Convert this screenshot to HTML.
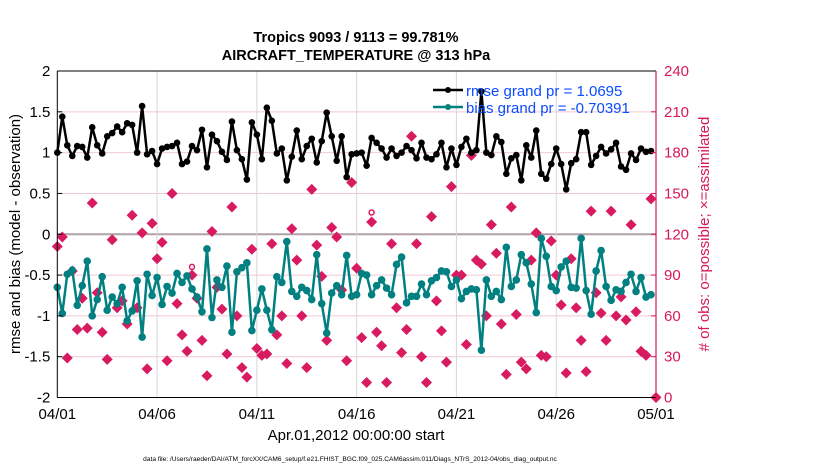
<!DOCTYPE html>
<html><head><meta charset="utf-8"><style>
body{margin:0;background:#fff;width:830px;height:470px;overflow:hidden;font-family:"Liberation Sans",sans-serif}
svg text{font-family:"Liberation Sans",sans-serif}
</style></head><body>
<svg id="chart" width="830" height="470" xmlns="http://www.w3.org/2000/svg">
<text x="356" y="42" font-size="14.5" font-weight="bold" text-anchor="middle">Tropics 9093 / 9113 = 99.781%</text>
<text x="356" y="60" font-size="14.5" font-weight="bold" text-anchor="middle">AIRCRAFT_TEMPERATURE @ 313 hPa</text>
<g id="grid"></g>
<g id="marks"></g>
<g id="axes"></g>
<text transform="translate(20,234) rotate(-90)" font-size="15" text-anchor="middle">rmse and bias (model - observation)</text>
<text fill="#d6195b" transform="translate(709,234) rotate(-90)" font-size="15" text-anchor="middle"># of obs: o=possible; ×=assimilated</text>
<text x="356" y="440" font-size="15" text-anchor="middle">Apr.01,2012 00:00:00 start</text>
<text x="350" y="461" font-size="6.6" text-anchor="middle">data file: /Users/raeder/DAI/ATM_forcXX/CAM6_setup/f.e21.FHIST_BGC.f09_025.CAM6assim.011/Diags_NTrS_2012-04/obs_diag_output.nc</text>
<g id="legend">
<line x1="433" y1="90" x2="463" y2="90" stroke="#000" stroke-width="2.5"/><circle cx="448" cy="90" r="3" fill="#000"/>
<text x="466" y="96" font-size="15" fill="#0a4cff">rmse grand pr = 1.0695</text>
<line x1="433" y1="107" x2="463" y2="107" stroke="#008080" stroke-width="2.5"/><circle cx="448" cy="107" r="3" fill="#008080"/>
<text x="466" y="113" font-size="15" fill="#0a4cff">bias grand pr = -0.70391</text>
</g>
</svg>
<script>
const rmse=[1.0,1.44,1.09,0.96,1.08,1.07,0.94,1.31,1.09,0.99,1.2,1.24,1.32,1.25,1.36,1.34,1.0,1.57,0.98,1.02,0.86,1.05,1.07,1.08,1.12,0.86,0.89,1.08,1.03,1.28,0.82,1.22,1.14,1.01,0.91,1.38,1.03,0.92,0.67,1.37,1.22,0.92,1.55,1.39,0.99,1.05,0.66,0.95,1.27,0.92,1.08,1.17,0.88,1.14,1.49,1.2,0.9,1.2,0.7,0.98,0.99,1.0,0.84,1.18,1.12,1.05,0.94,1.05,0.96,1.0,1.08,1.03,0.93,1.12,0.94,0.92,0.98,1.12,0.82,1.05,0.85,1.07,1.17,1.0,1.03,1.75,1.0,0.97,1.2,1.13,0.74,0.93,0.97,0.66,1.09,0.94,1.27,0.74,0.68,0.86,1.05,0.86,0.55,0.87,0.92,1.25,1.25,0.85,0.96,1.07,0.99,1.04,1.12,0.83,0.79,0.99,0.91,1.05,1.01,1.02];
const bias=[-0.65,-0.97,-0.49,-0.44,-0.87,-0.63,-0.33,-1.0,-0.8,-0.52,-0.93,-0.77,-0.85,-0.65,-1.06,-0.94,-0.57,-1.26,-0.49,-0.75,-0.53,-0.86,-0.64,-0.72,-0.48,-0.59,-0.51,-0.67,-0.77,-0.95,-0.18,-1.02,-0.56,-0.65,-0.39,-1.2,-0.46,-0.41,-0.35,-1.18,-0.93,-0.67,-0.93,-1.17,-0.52,-0.59,-0.09,-0.7,-0.76,-0.65,-0.69,-0.8,-0.25,-0.85,-1.21,-0.72,-0.63,-0.74,-0.26,-0.76,-0.74,-0.48,-0.5,-0.74,-0.63,-0.56,-0.66,-0.74,-0.37,-0.28,-0.84,-0.76,-0.76,-0.61,-0.74,-0.57,-0.53,-0.45,-0.46,-0.64,-0.56,-0.79,-0.70,-0.67,-0.68,-1.42,-0.56,-0.76,-0.70,-0.80,-0.16,-0.64,-0.56,-0.25,-0.35,-0.61,-0.96,-0.05,-0.27,-0.64,-0.69,-0.4,-0.33,-0.65,-0.66,-0.05,-0.69,-0.98,-0.45,-0.2,-0.64,-0.81,-0.68,-0.70,-0.59,-0.49,-0.70,-0.53,-0.77,-0.74];
const obsCount=[111,118,29,93,50,73,51,143,77,48,28,116,66,71,54,134,66,121,21,128,102,114,27,150,69,46,34,90,73,42,16,122,81,65,32,140,60,22,15,109,36,31,32,113,46,60,25,124,101,60,22,153,112,89,42,125,118,79,27,158,95,44,11,129,48,38,11,113,66,33,50,192,113,30,11,133,71,49,26,155,90,90,39,178,101,98,60,127,106,54,17,140,61,26,21,101,121,31,30,115,90,68,18,102,66,42,19,137,77,62,42,137,60,74,57,127,63,34,31,146,0];
const possibleIdx=[27,63];
const possibleCount=[96,136];
const yTicks=[-2,-1.5,-1,-0.5,0,0.5,1,1.5,2];
const yTickLabels=["-2","-1.5","-1","-0.5","0","0.5","1","1.5","2"];
const rTicks=[0,30,60,90,120,150,180,210,240];
const xTickDays=[0,5,10,15,20,25,30];
const xTickLabels=["04/01","04/06","04/11","04/16","04/21","04/26","05/01"];
const stepsPerDay=4;

const L=57.3,R=656,T=71,B=397.5;
const X=d=>L+(d/30)*(R-L);
const Y=v=>B-(v+2)/4*(B-T);
const YR=c=>B-c/240*(B-T);
const NS="http://www.w3.org/2000/svg";
function mk(tag,attrs,parent){const e=document.createElementNS(NS,tag);for(const k in attrs)e.setAttribute(k,attrs[k]);parent.appendChild(e);return e;}
const grid=document.getElementById('grid'),marks=document.getElementById('marks'),axes=document.getElementById('axes');
mk('rect',{x:L,y:T,width:R-L,height:B-T,fill:'#fff'},grid);
yTicks.forEach((v,i)=>{
  const g=mk('line',{x1:L,x2:R,y1:Y(v),y2:Y(v),stroke:v===0?'#b0a0a8':'#f0c8d4','stroke-width':v===0?2:1},grid);
  
  
  const t=mk('text',{x:L-7,y:Y(v)+5,'font-size':15,'text-anchor':'end'},axes);t.textContent=yTickLabels[i];
  
  
  mk('line',{x1:L,x2:L+5,y1:Y(v),y2:Y(v),stroke:'#000'},axes);
});
rTicks.forEach(c=>{
  const t=mk('text',{x:R+8,y:YR(c)+5,'font-size':15,fill:'#d6195b'},axes);t.textContent=c;
  
  
  mk('line',{x1:R-5,x2:R,y1:YR(c),y2:YR(c),stroke:'#d6195b'},axes);
});
xTickDays.forEach((d,i)=>{
  if(d>0&&d<30){const g=mk('line',{x1:X(d),x2:X(d),y1:T,y2:B,stroke:'#d8d8d8'},grid);
  
  }
  const t=mk('text',{x:X(d),y:419,'font-size':15,'text-anchor':'middle'},axes);t.textContent=xTickLabels[i];
  
  
});
obsCount.forEach((c,i)=>{
  const x=X(i/stepsPerDay),y=YR(c);
  const p=mk('path',{d:`M${x},${y-5.5}L${x+5.5},${y}L${x},${y+5.5}L${x-5.5},${y}Z`,fill:'#d81b60'},marks);
  
  
});
possibleIdx.forEach((idx,k)=>{
  const c=mk('circle',{cx:X(idx/stepsPerDay),cy:YR(possibleCount[k]),r:2.5,fill:'none',stroke:'#d81b60','stroke-width':1.5},marks);
  
  
});
function series(vals,color,name,r){
  const pts=vals.map((v,i)=>X(i/stepsPerDay)+','+Y(v)).join(' ');
  const pl=mk('polyline',{points:pts,fill:'none',stroke:color,'stroke-width':2.5,'stroke-linejoin':'round'},marks);
  
  
  vals.forEach((v,i)=>{const c=mk('circle',{cx:X(i/stepsPerDay),cy:Y(v),r:r,fill:color},marks);
    
    });
}
series(rmse,'#000','rmse',3.3);
series(bias,'#008080','bias',3.8);
mk('line',{x1:L,x2:L,y1:T,y2:B,stroke:'#000'},axes);
mk('line',{x1:L,x2:R,y1:T,y2:T,stroke:'#000'},axes);
mk('line',{x1:L,x2:R,y1:B,y2:B,stroke:'#000'},axes);
mk('line',{x1:R,x2:R,y1:T,y2:B,stroke:'#d6195b','stroke-width':1.2},axes);
</script>
</body></html>
